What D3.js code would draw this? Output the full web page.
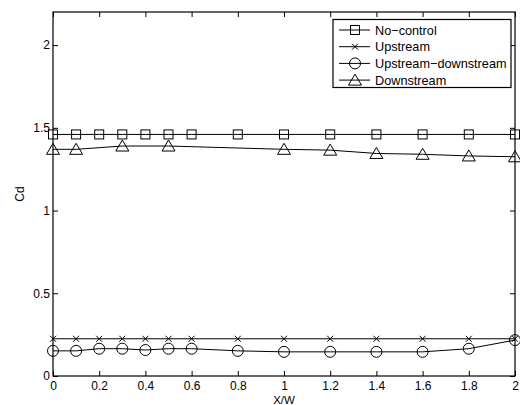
<!DOCTYPE html>
<html>
<head>
<meta charset="utf-8">
<script src="https://cdn.jsdelivr.net/npm/d3@7"></script>
<style>
  body { margin: 0; background: #fff; }
  svg { display: block; font-family: "Liberation Sans", Arial, Helvetica, sans-serif; }
</style>
</head>
<body>
<svg id="chart" width="520" height="405"></svg>
<script>
const xw = [0, 0.1, 0.2, 0.3, 0.4, 0.5, 0.6, 0.8, 1.0, 1.2, 1.4, 1.6, 1.8, 2.0];
const noControl = [1.46, 1.46, 1.46, 1.46, 1.46, 1.46, 1.46, 1.46, 1.46, 1.46, 1.46, 1.46, 1.46, 1.46];
const upstream = [0.225, 0.225, 0.225, 0.225, 0.225, 0.225, 0.225, 0.225, 0.225, 0.225, 0.225, 0.225, 0.225, 0.225];
const upDown = [0.152, 0.152, 0.165, 0.165, 0.157, 0.165, 0.165, 0.152, 0.146, 0.146, 0.146, 0.146, 0.165, 0.217];
const downX = [0, 0.1, 0.3, 0.5, 1.0, 1.2, 1.4, 1.6, 1.8, 2.0];
const downstream = [1.37, 1.37, 1.39, 1.39, 1.37, 1.365, 1.345, 1.34, 1.33, 1.325];
const xTicks = [0, 0.2, 0.4, 0.6, 0.8, 1, 1.2, 1.4, 1.6, 1.8, 2];
const yTicks = [0, 0.5, 1, 1.5, 2];

const series = [
  { name: "No\u2212control", xs: xw, ys: noControl, marker: "square" },
  { name: "Upstream", xs: xw, ys: upstream, marker: "cross" },
  { name: "Upstream\u2212downstream", xs: xw, ys: upDown, marker: "circle" },
  { name: "Downstream", xs: downX, ys: downstream, marker: "triangle" }
];

const svg = d3.select("#chart");
const margin = { top: 12, right: 5, bottom: 29, left: 53 };
const width = 520, height = 405;

const x = d3.scaleLinear().domain([0, 2]).range([margin.left, width - margin.right]);
const y = d3.scaleLinear().domain([0, 2.2]).range([height - margin.bottom, margin.top]);

// axes (MATLAB style, ticks inward on all sides)
svg.append("g")
  .attr("transform", `translate(0,${y(0)})`)
  .call(d3.axisBottom(x).tickValues(xTicks).tickSize(-5).tickPadding(5).tickFormat(d3.format("~g")))
  .call(g => g.select(".domain").remove());
svg.append("g")
  .attr("transform", `translate(0,${y(2.2)})`)
  .call(d3.axisTop(x).tickValues(xTicks).tickSize(-5).tickFormat(""))
  .call(g => g.select(".domain").remove());
svg.append("g")
  .attr("transform", `translate(${x(0)},0)`)
  .call(d3.axisLeft(y).tickValues(yTicks).tickSize(-5).tickPadding(3).tickFormat(d3.format("~g")))
  .call(g => g.select(".domain").remove());
svg.append("g")
  .attr("transform", `translate(${x(2)},0)`)
  .call(d3.axisRight(y).tickValues(yTicks).tickSize(-5).tickFormat(""))
  .call(g => g.select(".domain").remove());

svg.selectAll(".tick text").attr("font-size", 12).attr("fill", "#000")
  .attr("font-family", "'Liberation Sans', Arial, sans-serif");
svg.selectAll(".tick line").attr("stroke", "#000");

svg.append("rect")
  .attr("x", x(0)).attr("y", y(2.2))
  .attr("width", x(2) - x(0)).attr("height", y(0) - y(2.2))
  .attr("fill", "none").attr("stroke", "#000").attr("stroke-width", 1.2);

// labels
svg.append("text").attr("x", (x(0) + x(2)) / 2).attr("y", 404)
  .attr("text-anchor", "middle").attr("font-size", 11.5).text("X/W");
svg.append("text").attr("transform", `translate(24,${y(1.1)}) rotate(-90)`)
  .attr("text-anchor", "middle").attr("font-size", 12).text("Cd");

function drawMarker(g, type, cx, cy) {
  if (type === "square") {
    g.append("rect").attr("x", cx - 4.5).attr("y", cy - 4.5).attr("width", 9).attr("height", 9)
      .attr("fill", "none").attr("stroke", "#000");
  } else if (type === "circle") {
    g.append("circle").attr("cx", cx).attr("cy", cy).attr("r", 5.5)
      .attr("fill", "none").attr("stroke", "#000");
  } else if (type === "triangle") {
    g.append("path").attr("d", `M${cx},${cy - 6}L${cx + 6.5},${cy + 5}L${cx - 6.5},${cy + 5}Z`)
      .attr("fill", "none").attr("stroke", "#000");
  } else {
    g.append("path").attr("d", `M${cx - 3},${cy - 3}L${cx + 3},${cy + 3}M${cx - 3},${cy + 3}L${cx + 3},${cy - 3}`)
      .attr("fill", "none").attr("stroke", "#000");
  }
}

const line = d3.line().x(d => x(d[0])).y(d => y(d[1]));
series.forEach(s => {
  const pts = s.xs.map((v, i) => [v, s.ys[i]]);
  const g = svg.append("g");
  g.append("path").attr("d", line(pts)).attr("fill", "none").attr("stroke", "#000").attr("stroke-width", 1);
  pts.forEach(p => drawMarker(g, s.marker, x(p[0]), y(p[1])));
});

// legend
const lg = svg.append("g");
lg.append("rect").attr("x", 333).attr("y", 19.5).attr("width", 178).attr("height", 68)
  .attr("fill", "#fff").attr("stroke", "#000").attr("stroke-width", 1.2);
series.forEach((s, i) => {
  const ly = 30 + i * 16.7;
  lg.append("line").attr("x1", 339).attr("x2", 370).attr("y1", ly).attr("y2", ly).attr("stroke", "#000");
  drawMarker(lg, s.marker, 355, ly);
  lg.append("text").attr("x", 375).attr("y", ly + 4.5).attr("font-size", 12.7).text(s.name);
});
</script>
</body>
</html>
